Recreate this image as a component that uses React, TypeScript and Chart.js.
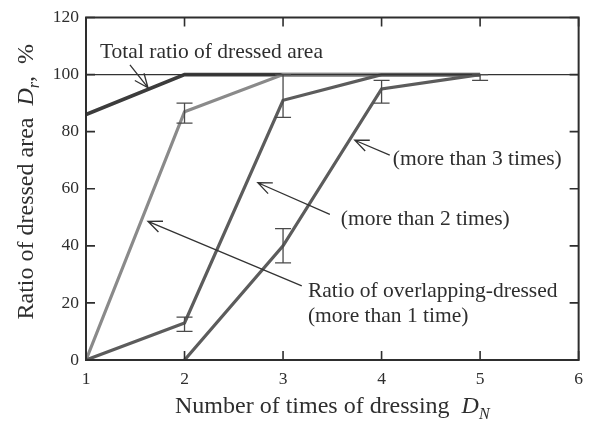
import React, { useEffect, useRef } from "react";
import { Chart, registerables } from "chart.js";
Chart.register(...registerables);

// ---- data ----
const dressingTimes = [1, 2, 3, 4, 5];
const totalRatio = [86, 100, 100, 100, 100];
const overlap1 = [0, 87, 100, 100, 100];
const overlap2 = [0, 13, 91, 100, 100];
const overlap3 = [null, 0, 40, 95, 100];
const referenceX = [1, 6];
const referenceY = [100, 100];

const err1X = [2];
const err1Low = [83];
const err1High = [90];
const err2X = [2, 3];
const err2Low = [10, 85];
const err2High = [15, 100];
const err3X = [3, 4, 5];
const err3Low = [34, 90, 98];
const err3High = [46, 98, 100];

const xTicks = [1, 2, 3, 4, 5, 6];
const yTicks = [0, 20, 40, 60, 80, 100, 120];

// annotations in data coordinates
const annotationTexts = [
  { text: "Total ratio of dressed area", x: 1.142, y: 105.8 },
  { text: "(more than 3 times)", x: 4.114, y: 68.3 },
  { text: "(more than 2 times)", x: 3.586, y: 47.2 },
  { text: "Ratio of overlapping-dressed", x: 3.252, y: 22.2 },
  { text: "(more than 1 time)", x: 3.252, y: 13.2 },
];
const annotationArrows = [
  { x1: 1.446, y1: 103.4, x2: 1.629, y2: 95.4 },
  { x1: 4.083, y1: 71.8, x2: 3.728, y2: 77.0 },
  { x1: 3.475, y1: 51.0, x2: 2.744, y2: 62.1 },
  { x1: 3.19, y1: 26.0, x2: 1.629, y2: 48.6 },
];

const FONT = "'Liberation Serif', 'DejaVu Serif', serif";
const INK = "#2e2e2e";

function toPoints(xs: number[], ys: (number | null)[]) {
  return xs.map((x, i) => ({ x, y: ys[i] }));
}

type Part = { text: string; italic?: boolean; sub?: boolean };

function drawRich(ctx: CanvasRenderingContext2D, parts: Part[], size: number, cx: number, baseline: number) {
  const subSize = Math.round(size * 0.66);
  const fontOf = (p: Part) => `${p.italic ? "italic " : ""}${p.sub ? subSize : size}px ${FONT}`;
  let total = 0;
  const widths = parts.map((p) => {
    ctx.font = fontOf(p);
    const w = ctx.measureText(p.text).width;
    total += w;
    return w;
  });
  let x = cx - total / 2;
  ctx.textAlign = "left";
  ctx.textBaseline = "alphabetic";
  parts.forEach((p, i) => {
    ctx.font = fontOf(p);
    ctx.fillText(p.text, x, baseline + (p.sub ? size * 0.25 : 0));
    x += widths[i];
  });
}

const decorPlugin = {
  id: "decor",
  afterDatasetsDraw(chart: any) {
    const ctx: CanvasRenderingContext2D = chart.ctx;
    const xs = chart.scales.x;
    const ys = chart.scales.y;
    const a = chart.chartArea;
    ctx.save();

    // error bars
    const groups = [
      { xs: err1X, lo: err1Low, hi: err1High },
      { xs: err2X, lo: err2Low, hi: err2High },
      { xs: err3X, lo: err3Low, hi: err3High },
    ];
    ctx.strokeStyle = "#4a4a4a";
    ctx.lineWidth = 1.3;
    groups.forEach((g) => {
      g.xs.forEach((xv, i) => {
        const px = xs.getPixelForValue(xv);
        const pl = ys.getPixelForValue(g.lo[i]);
        const ph = ys.getPixelForValue(g.hi[i]);
        ctx.beginPath();
        ctx.moveTo(px, pl);
        ctx.lineTo(px, ph);
        ctx.moveTo(px - 8, pl);
        ctx.lineTo(px + 8, pl);
        ctx.moveTo(px - 8, ph);
        ctx.lineTo(px + 8, ph);
        ctx.stroke();
      });
    });

    // frame
    ctx.strokeStyle = INK;
    ctx.lineWidth = 2;
    ctx.strokeRect(a.left, a.top, a.right - a.left, a.bottom - a.top);

    // inward ticks
    ctx.lineWidth = 1.6;
    ctx.beginPath();
    xTicks.forEach((v) => {
      const px = xs.getPixelForValue(v);
      ctx.moveTo(px, a.bottom);
      ctx.lineTo(px, a.bottom - 9);
      ctx.moveTo(px, a.top);
      ctx.lineTo(px, a.top + 9);
    });
    yTicks.forEach((v) => {
      const py = ys.getPixelForValue(v);
      ctx.moveTo(a.left, py);
      ctx.lineTo(a.left + 9, py);
      ctx.moveTo(a.right, py);
      ctx.lineTo(a.right - 9, py);
    });
    ctx.stroke();

    // arrows
    ctx.strokeStyle = "#333";
    ctx.lineWidth = 1.3;
    annotationArrows.forEach((ar) => {
      const x1 = xs.getPixelForValue(ar.x1);
      const y1 = ys.getPixelForValue(ar.y1);
      const x2 = xs.getPixelForValue(ar.x2);
      const y2 = ys.getPixelForValue(ar.y2);
      const ang = Math.atan2(y2 - y1, x2 - x1);
      const L = 15;
      const spread = 0.4;
      ctx.beginPath();
      ctx.moveTo(x1, y1);
      ctx.lineTo(x2, y2);
      ctx.moveTo(x2 - L * Math.cos(ang - spread), y2 - L * Math.sin(ang - spread));
      ctx.lineTo(x2, y2);
      ctx.lineTo(x2 - L * Math.cos(ang + spread), y2 - L * Math.sin(ang + spread));
      ctx.stroke();
    });

    // annotation texts
    ctx.fillStyle = INK;
    ctx.font = `21.5px ${FONT}`;
    ctx.textAlign = "left";
    ctx.textBaseline = "alphabetic";
    annotationTexts.forEach((t) => {
      ctx.fillText(t.text, xs.getPixelForValue(t.x), ys.getPixelForValue(t.y));
    });

    // x axis title
    drawRich(
      ctx,
      [{ text: "Number of times of dressing  " }, { text: "D", italic: true }, { text: "N", italic: true, sub: true }],
      24,
      (a.left + a.right) / 2,
      a.bottom + 53
    );

    // y axis title
    ctx.save();
    ctx.translate(33, (a.top + a.bottom) / 2 - 7);
    ctx.rotate(-Math.PI / 2);
    drawRich(
      ctx,
      [{ text: "Ratio of dressed area  " }, { text: "D", italic: true }, { text: "r", italic: true, sub: true }, { text: ",  %" }],
      24,
      0,
      0
    );
    ctx.restore();

    ctx.restore();
  },
};

export default function App() {
  const ref = useRef<HTMLCanvasElement>(null);
  useEffect(() => {
    if (!ref.current) return;
    const lineDs = (label: string, ys: (number | null)[], color: string, width: number) => ({
      label,
      data: toPoints(dressingTimes, ys),
      borderColor: color,
      borderWidth: width,
      pointRadius: 0,
      fill: false,
      tension: 0,
    });
    const chart = new Chart(ref.current, {
      type: "line",
      data: {
        datasets: [
          {
            label: "100% reference",
            data: toPoints(referenceX, referenceY),
            borderColor: "#333",
            borderWidth: 1.2,
            pointRadius: 0,
            fill: false,
          },
          lineDs("more than 3 times", overlap3, "#5c5c5c", 3.2),
          lineDs("more than 2 times", overlap2, "#5c5c5c", 3.2),
          lineDs("more than 1 time", overlap1, "#8a8a8a", 3.2),
          lineDs("Total ratio of dressed area", totalRatio, "#3c3c3c", 3.6),
        ] as any,
      },
      options: {
        responsive: false,
        animation: false,
        layout: { padding: { top: 14, right: 13, left: 0, bottom: 0 } },
        plugins: { legend: { display: false }, tooltip: { enabled: false } },
        scales: {
          x: {
            type: "linear",
            min: 1,
            max: 6,
            afterFit: (s: any) => {
              s.height = 63;
            },
            afterBuildTicks: (s: any) => {
              s.ticks = xTicks.map((v) => ({ value: v }));
            },
            grid: { display: false, drawTicks: false },
            border: { display: false },
            ticks: { padding: 9, color: INK, font: { family: FONT, size: 17.5 } },
          },
          y: {
            type: "linear",
            min: 0,
            max: 120,
            afterFit: (s: any) => {
              s.width = 86;
            },
            afterBuildTicks: (s: any) => {
              s.ticks = yTicks.map((v) => ({ value: v }));
            },
            grid: { display: false, drawTicks: false },
            border: { display: false },
            ticks: { padding: 7, color: INK, font: { family: FONT, size: 17.5 } },
          },
        },
      } as any,
      plugins: [decorPlugin],
    });
    return () => chart.destroy();
  }, []);
  return (
    <div style={{ position: "absolute", left: 0, top: 0, width: 592, height: 423, background: "#fff" }}>
      <canvas ref={ref} width={592} height={423} style={{ width: 592, height: 423 }} />
    </div>
  );
}
